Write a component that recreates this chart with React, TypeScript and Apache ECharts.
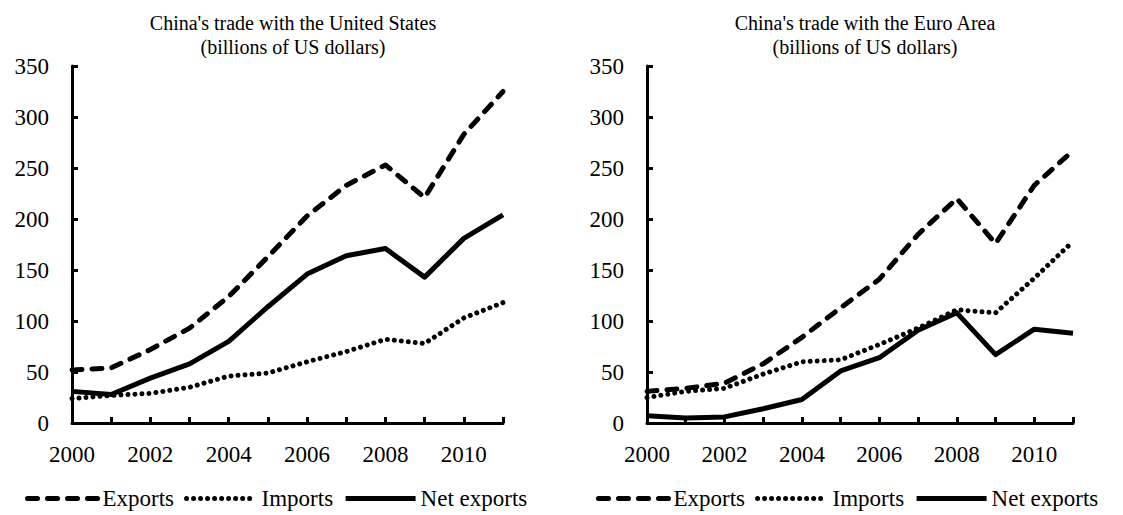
import React, { useEffect, useRef } from "react";
import * as echarts from "echarts";

const years = ["2000","2001","2002","2003","2004","2005","2006","2007","2008","2009","2010","2011"];

const usExports = [52, 54, 72, 93, 124, 163, 203, 233, 253, 221, 283, 325];
const usImports = [24, 27, 29, 35, 46, 49, 60, 70, 82, 78, 103, 118];
const usNet = [31, 28, 44, 58, 80, 114, 146, 164, 171, 143, 181, 204];

const euExports = [31, 34, 39, 58, 84, 113, 141, 185, 220, 176, 233, 267];
const euImports = [25, 31, 34, 48, 60, 62, 77, 93, 111, 108, 142, 178];
const euNet = [7, 5, 6, 14, 23, 51, 64, 91, 108, 67, 92, 88];

const seriesNames = ["Exports", "Imports", "Net exports"];
const titleLeft = "China's trade with the United States\n(billions of US dollars)";
const titleRight = "China's trade with the Euro Area\n(billions of US dollars)";

const FONT = "Liberation Serif";

export default function App() {
  const ref = useRef<HTMLDivElement>(null);
  useEffect(() => {
    document.body.style.margin = "0";
    if (!ref.current) return;
    const chart = echarts.init(ref.current, undefined, { renderer: "svg" });

    const styles = [
      { type: [10, 10], width: 5, cap: "round" as const },
      { type: [0.01, 7], width: 5, cap: "round" as const },
      { type: "solid" as const, width: 5, cap: "butt" as const },
    ];

    const grids = [
      { left: 72, top: 66, width: 431, height: 357 },
      { left: 647, top: 66, width: 426, height: 357 },
    ];

    const xAxis = grids.map((_, i) => ({
      type: "category" as const,
      gridIndex: i,
      data: years,
      boundaryGap: false,
      axisLine: { lineStyle: { color: "#000", width: 3 } },
      axisTick: { show: true, inside: true, length: 6, interval: 0, lineStyle: { color: "#000", width: 3 } },
      axisLabel: { interval: 1, color: "#000", fontFamily: FONT, fontSize: 23, margin: 20 },
      splitLine: { show: false },
    }));

    const yAxis = grids.map((_, i) => ({
      type: "value" as const,
      gridIndex: i,
      min: 0,
      max: 350,
      interval: 50,
      axisLine: { show: true, lineStyle: { color: "#000", width: 3 } },
      axisTick: { show: true, inside: true, length: 6, lineStyle: { color: "#000", width: 3 } },
      axisLabel: { color: "#000", fontFamily: FONT, fontSize: 23, margin: 23 },
      splitLine: { show: false },
    }));

    const dataSets = [
      [usExports, usImports, usNet],
      [euExports, euImports, euNet],
    ];

    const series: any[] = [];
    dataSets.forEach((set, gi) => {
      set.forEach((d, si) => {
        series.push({
          type: "line",
          name: seriesNames[si],
          xAxisIndex: gi,
          yAxisIndex: gi,
          data: d,
          symbol: "none",
          showSymbol: false,
          lineStyle: { color: "#000", width: styles[si].width, type: styles[si].type, cap: styles[si].cap, join: "round" },
          itemStyle: { color: "#000" },
          z: 3 - si,
        });
      });
    });

    const legendBase = {
      data: seriesNames,
      orient: "horizontal" as const,
      itemWidth: 70,
      itemHeight: 14,
      itemGap: 10,
      selectedMode: false,
      itemStyle: { opacity: 0 },
      lineStyle: { width: 5 },
      textStyle: { color: "#000", fontFamily: FONT, fontSize: 23 },
    };

    const titleStyle = { color: "#000", fontFamily: FONT, fontSize: 20, fontWeight: "normal" as const, lineHeight: 24 };

    chart.setOption({
      animation: false,
      backgroundColor: "#fff",
      title: [
        { text: titleLeft, left: 288, top: 6, textAlign: "center", textStyle: titleStyle },
        { text: titleRight, left: 860, top: 6, textAlign: "center", textStyle: titleStyle },
      ],
      legend: [
        { ...legendBase, left: 20, top: 482 },
        { ...legendBase, left: 591, top: 482 },
      ],
      grid: grids,
      xAxis,
      yAxis,
      series,
    });
    return () => chart.dispose();
  }, []);
  return <div ref={ref} style={{ width: 1123, height: 515 }} />;
}
